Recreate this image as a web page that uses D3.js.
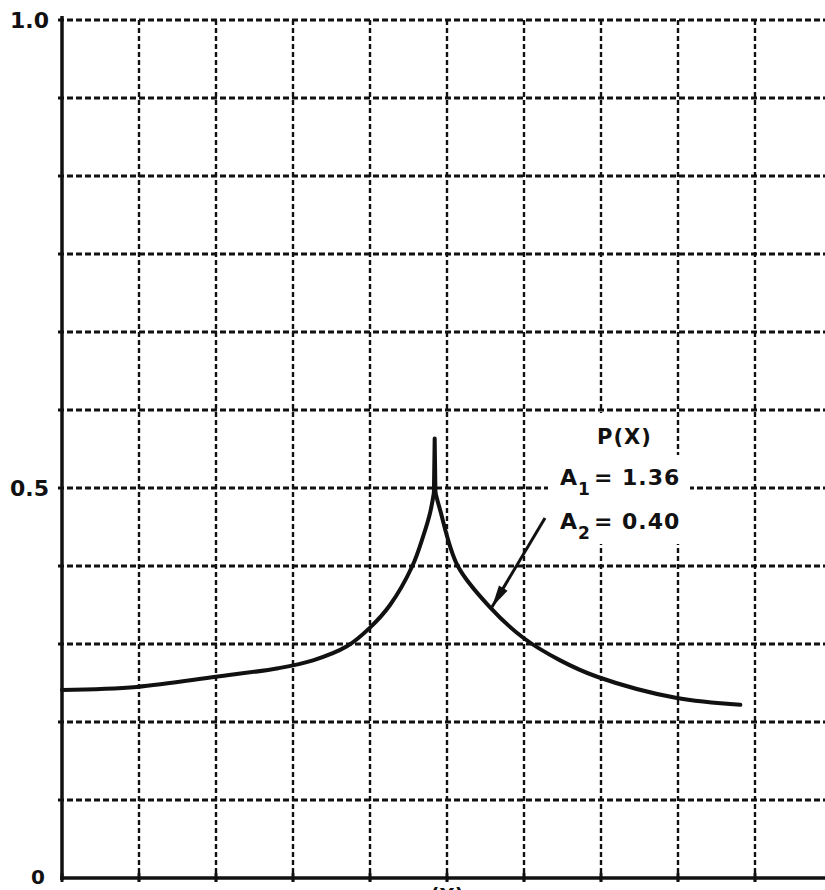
<!DOCTYPE html>
<html>
<head>
<meta charset="utf-8">
<script src="https://cdn.jsdelivr.net/npm/d3@7"></script>
<style>
  body { margin: 0; background: #fff; }
  text { font-family: "DejaVu Sans", sans-serif; font-weight: bold; fill: #111; }
</style>
</head>
<body>
<div id="chart"></div>
<script>
// Curve p(x), x in grid units (0..10), y in plotted units
const curveX = [0, 0.97, 2.0, 2.81, 3.26, 3.70, 4.0, 4.26, 4.55, 4.69, 4.78, 4.83, 4.84, 4.85, 4.91, 5.14, 5.56, 5.99, 6.47, 6.95, 7.97, 8.81];
const curveY = [0.241, 0.245, 0.258, 0.269, 0.279, 0.297, 0.321, 0.350, 0.400, 0.438, 0.468, 0.494, 0.553, 0.494, 0.472, 0.400, 0.347, 0.308, 0.279, 0.258, 0.231, 0.222];

// Axis labels
const yTickValues = [0, 0.5, 1.0];
const yTickLabels = ["0", "0.5", "1.0"];

// Grid: 10 columns, 11 rows
const gridCols = d3.range(0, 11);
const gridRows = d3.range(0, 12);

const annotation = { title: "P(X)", a1: "1.36", a2: "0.40" };

const width = 825;
const height = 890;

// Set up scales
const x = d3.scaleLinear().domain([0, 10]).range([62, 832]);
// the printed axis is not linear: 0.5 sits on the 6th grid row from the top
const y = d3.scaleLinear().domain([0, 0.5, 1.0]).range([878, 488, 20]);
const gy = d3.scaleLinear().domain([0, 11]).range([878, 20]);

const svg = d3
  .select("#chart")
  .append("svg")
  .attr("width", width)
  .attr("height", height);

// Dashed grid
svg
  .selectAll(".vgrid")
  .data(gridCols.slice(1))
  .enter()
  .append("line")
  .attr("class", "vgrid")
  .attr("x1", (d) => x(d))
  .attr("x2", (d) => x(d))
  .attr("y1", gy(11))
  .attr("y2", gy(0) + 4)
  .attr("stroke", "#111")
  .attr("stroke-width", 2.4)
  .attr("stroke-dasharray", "5,3");

svg
  .selectAll(".hgrid")
  .data(gridRows.slice(1))
  .enter()
  .append("line")
  .attr("class", "hgrid")
  .attr("x1", x(0) - 4)
  .attr("x2", width)
  .attr("y1", (d) => gy(d))
  .attr("y2", (d) => gy(d))
  .attr("stroke", "#111")
  .attr("stroke-width", 2.8)
  .attr("stroke-dasharray", "6,3");

// White patches where the legend text sits over the grid
svg.append("rect").attr("x", 548).attr("y", 455).attr("width", 142).attr("height", 89).attr("fill", "#fff");
svg.append("rect").attr("x", 588).attr("y", 413).attr("width", 66).attr("height", 44).attr("fill", "#fff");

// Axes (solid)
svg
  .append("line")
  .attr("x1", x(0))
  .attr("x2", x(0))
  .attr("y1", y(1.0) - 4)
  .attr("y2", y(0) + 2)
  .attr("stroke", "#111")
  .attr("stroke-width", 3.5);

svg
  .append("line")
  .attr("x1", x(0) - 2)
  .attr("x2", width)
  .attr("y1", y(0))
  .attr("y2", y(0))
  .attr("stroke", "#111")
  .attr("stroke-width", 3.5);

// Small ticks along the bottom axis
svg
  .selectAll(".xtick")
  .data(gridCols)
  .enter()
  .append("line")
  .attr("class", "xtick")
  .attr("x1", (d) => x(d))
  .attr("x2", (d) => x(d))
  .attr("y1", y(0) - 5)
  .attr("y2", y(0) + 4)
  .attr("stroke", "#111")
  .attr("stroke-width", 3);

// Y labels
svg
  .selectAll(".ylabel")
  .data(yTickValues)
  .enter()
  .append("text")
  .attr("class", "ylabel")
  .attr("x", (d) => (d === 0 ? 45 : 49))
  .attr("y", (d) => (d === 0 ? 884 : y(d) + 8))
  .attr("text-anchor", "end")
  .style("font-size", (d) => (d === 0 ? "20px" : "22px"))
  .text((d, i) => yTickLabels[i]);

// X label (cut off by the bottom edge, as in the original)
svg
  .append("text")
  .attr("x", x(5))
  .attr("y", 902)
  .attr("text-anchor", "middle")
  .style("font-size", "20px")
  .text("(X)");

// The curve: two smooth branches joined by the sharp spike
const points = curveX.map((d, i) => [d, curveY[i]]);
const iPeak = d3.maxIndex(curveY);
const smooth = d3
  .line()
  .x((d) => x(d[0]))
  .y((d) => y(d[1]))
  .curve(d3.curveCatmullRom.alpha(0.5));
const straight = d3
  .line()
  .x((d) => x(d[0]))
  .y((d) => y(d[1]));

[
  [points.slice(0, iPeak), smooth],
  [points.slice(iPeak - 1, iPeak + 2), straight],
  [points.slice(iPeak + 1), smooth],
].forEach(([pts, gen]) => {
  svg
    .append("path")
    .datum(pts)
    .attr("d", gen)
    .attr("fill", "none")
    .attr("stroke", "#111")
    .attr("stroke-width", 4)
    .attr("stroke-linejoin", "round")
    .attr("stroke-linecap", "round");
});

// Annotation
svg
  .append("text")
  .attr("x", 597)
  .attr("y", 444)
  .style("font-size", "21px")
  .style("letter-spacing", "1px")
  .text(annotation.title);

const labelRows = [
  { sub: "1", val: annotation.a1, yy: 485 },
  { sub: "2", val: annotation.a2, yy: 529 },
];

labelRows.forEach((r) => {
  const t = svg
    .append("text")
    .attr("x", 560)
    .attr("y", r.yy)
    .style("font-size", "22px")
    .style("letter-spacing", "1px");
  t.append("tspan").text("A");
  t.append("tspan").attr("dy", 10).style("font-size", "17px").text(r.sub);
  t.append("tspan").attr("dy", -10).attr("dx", 3).text("= " + r.val);
});

// Arrow pointing at the curve
const arrowFrom = [545, 518];
const arrowTo = [492, 607];
svg
  .append("line")
  .attr("x1", arrowFrom[0])
  .attr("y1", arrowFrom[1])
  .attr("x2", arrowTo[0])
  .attr("y2", arrowTo[1])
  .attr("stroke", "#111")
  .attr("stroke-width", 3);

const ang = Math.atan2(arrowTo[1] - arrowFrom[1], arrowTo[0] - arrowFrom[0]);
const headLen = 22;
const headW = 5;
const bx = arrowTo[0] - headLen * Math.cos(ang);
const by = arrowTo[1] - headLen * Math.sin(ang);
svg
  .append("path")
  .attr(
    "d",
    `M${arrowTo[0]},${arrowTo[1]} L${bx + headW * Math.sin(ang)},${by - headW * Math.cos(ang)} L${bx - headW * Math.sin(ang)},${by + headW * Math.cos(ang)} Z`
  )
  .attr("fill", "#111");
</script>
</body>
</html>
